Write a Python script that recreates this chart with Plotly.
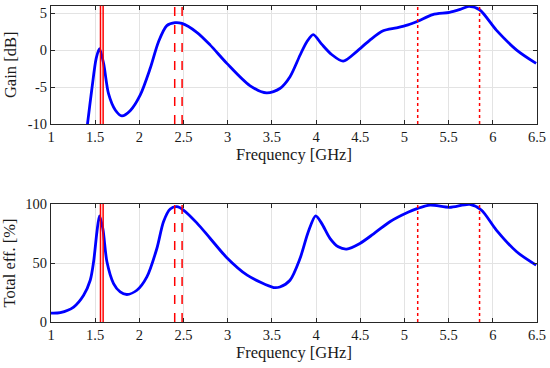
import plotly.graph_objects as go

# Gain [dB] curve (top)
gain_freq = [1.37, 1.414, 1.463, 1.512, 1.549, 1.595, 1.651, 1.727, 1.802, 1.896, 2.009, 2.122, 2.216, 2.311, 2.405, 2.48, 2.65, 2.80, 2.99, 3.25, 3.44, 3.59, 3.705, 3.818, 3.894, 3.968, 4.063, 4.176, 4.307, 4.459, 4.609, 4.759, 4.91, 5.04, 5.15, 5.32, 5.51, 5.63, 5.73, 5.85, 6.04, 6.27, 6.49]
gain_db = [-14.0, -9.9, -5.2, -1.1, 0.2, -1.8, -5.9, -8.1, -8.9, -8.2, -6.1, -2.5, 1.1, 3.3, 3.7, 3.6, 2.4, 0.7, -1.8, -4.8, -5.8, -5.2, -3.6, -0.7, 1.1, 2.1, 0.8, -0.6, -1.5, -0.2, 1.35, 2.6, 3.0, 3.4, 3.9, 4.8, 5.1, 5.5, 5.9, 5.45, 2.7, 0.0, -1.8]

# Total efficiency [%] curve (bottom)
eff_freq = [1.00, 1.105, 1.256, 1.369, 1.444, 1.482, 1.52, 1.549, 1.587, 1.633, 1.708, 1.783, 1.859, 1.972, 2.085, 2.198, 2.273, 2.349, 2.424, 2.499, 2.65, 2.80, 2.99, 3.22, 3.52, 3.59, 3.705, 3.818, 3.912, 3.995, 4.063, 4.157, 4.251, 4.346, 4.496, 4.647, 4.835, 5.04, 5.15, 5.29, 5.51, 5.74, 5.87, 6.04, 6.27, 6.49]
eff_pct = [7.6, 8.0, 12.7, 22.7, 35.4, 51.0, 76.5, 90.0, 79.0, 51.0, 32.6, 25.5, 23.3, 26.9, 38.2, 62.3, 85.0, 95.8, 97.7, 94.9, 84.0, 71.0, 54.5, 39.7, 29.2, 29.7, 35.4, 53.8, 76.5, 90.0, 83.6, 70.9, 63.7, 61.8, 66.6, 74.5, 85.0, 93.0, 96.3, 99.1, 97.2, 99.7, 94.9, 77.9, 59.5, 48.2]

# Band edges [GHz]
band_solid = [1.56, 1.59]
band_dash = [2.40, 2.4835]
band_dot = [5.15, 5.85]

x_ticks = [1, 1.5, 2, 2.5, 3, 3.5, 4, 4.5, 5, 5.5, 6, 6.5]
x_ticktext = ["1", "1.5", "2", "2.5", "3", "3.5", "4", "4.5", "5", "5.5", "6", "6.5"]
gain_ticks = [-10, -5, 0, 5]
gain_ticktext = ["-10", "-5", "0", "5"]
eff_ticks = [0, 50, 100]
eff_ticktext = ["0", "50", "100"]

FONT = "Liberation Serif"
BLUE = "#0000ff"
RED = "#ff0000"
AX = "#262626"
GRID = "#e3e3e3"
TXT = "#1a1a1a"

fig = go.Figure()
fig.add_trace(go.Scatter(x=gain_freq, y=gain_db, mode="lines",
                         line=dict(color=BLUE, width=2.8, shape="spline", smoothing=0.8),
                         xaxis="x", yaxis="y", showlegend=False))
fig.add_trace(go.Scatter(x=eff_freq, y=eff_pct, mode="lines",
                         line=dict(color=BLUE, width=2.8, shape="spline", smoothing=0.8),
                         xaxis="x2", yaxis="y2", showlegend=False))

for xr, yr in [("x", "y"), ("x2", "y2")]:
    for vals, dash in [(band_solid, "solid"), (band_dash, "dash"), (band_dot, "dot")]:
        for v in vals:
            fig.add_shape(type="line", xref=xr, yref=yr + " domain", x0=v, x1=v, y0=0, y1=1,
                          line=dict(color=RED, width=1.5, dash=dash), layer="above")

xdom = [51 / 550, 537 / 550]
common_x = dict(range=[1, 6.5], tickvals=x_ticks, ticktext=x_ticktext, showgrid=True,
                gridcolor=GRID, gridwidth=1, showline=True, linecolor=AX, linewidth=1,
                mirror="ticks", ticks="inside", ticklen=4, tickcolor=AX,
                zeroline=False, domain=xdom,
                tickfont=dict(family=FONT, size=14.5, color=TXT),
                title=dict(text="Frequency [GHz]", font=dict(family=FONT, size=16.5, color=TXT), standoff=4),
                automargin=False)
common_y = dict(showgrid=True, gridcolor=GRID, gridwidth=1, showline=True, linecolor=AX,
                linewidth=1, mirror="ticks", ticks="inside", ticklen=4, tickcolor=AX,
                zeroline=False, tickfont=dict(family=FONT, size=14.5, color=TXT),
                automargin=False)

fig.update_layout(
    width=550, height=368,
    margin=dict(l=0, r=0, t=0, b=0),
    paper_bgcolor="white", plot_bgcolor="white",
    xaxis=dict(**common_x, anchor="y"),
    yaxis=dict(**common_y, range=[-10, 6], tickvals=gain_ticks, ticktext=gain_ticktext,
               domain=[(368 - 124) / 368, (368 - 5.7) / 368], anchor="x",
               title=dict(text="Gain [dB]", font=dict(family=FONT, size=16.5, color=TXT), standoff=6)),
    xaxis2=dict(**common_x, anchor="y2"),
    yaxis2=dict(**common_y, range=[0, 100], tickvals=eff_ticks, ticktext=eff_ticktext,
                domain=[(368 - 322) / 368, (368 - 204) / 368], anchor="x2",
                title=dict(text="Total eff. [%]", font=dict(family=FONT, size=16.5, color=TXT), standoff=6)),
)

fig.write_html("out.html", config={"displayModeBar": False},
               post_script="document.body.style.margin='0';document.body.style.padding='0';")
